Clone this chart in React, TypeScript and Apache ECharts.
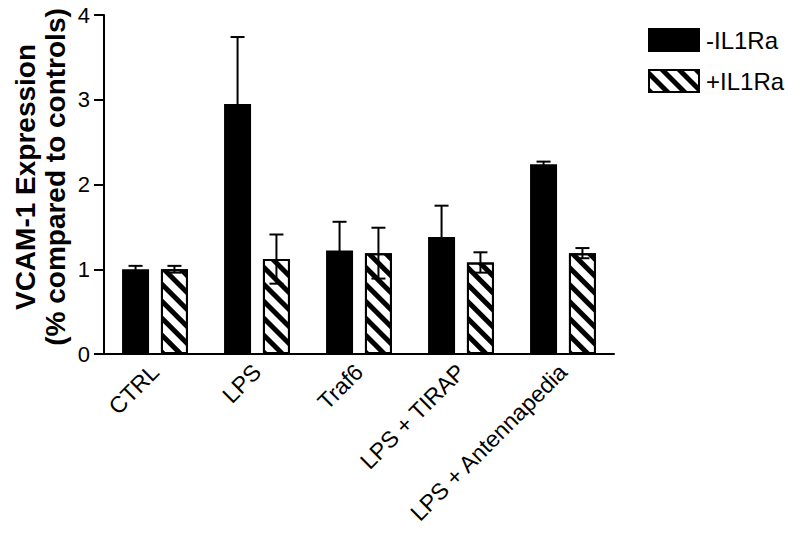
import React, { useEffect, useRef } from "react";
import * as echarts from "echarts";

const categories = ["CTRL", "LPS", "Traf6", "LPS + TIRAP", "LPS + Antennapedia"];
const minusValues = [1.0, 2.95, 1.22, 1.38, 2.24];
const minusErrors = [0.04, 0.79, 0.34, 0.37, 0.03];
const plusValues = [1.0, 1.12, 1.19, 1.08, 1.19];
const plusErrors = [0.04, 0.29, 0.3, 0.12, 0.06];
const yTicks = [0, 1, 2, 3, 4];

const FONT = "Liberation Sans, Arial, sans-serif";
const BAR_W = 27;
const GAP_PCT = 0.44;

function errorSeries(values: number[], errors: number[], side: number) {
  return {
    type: "custom",
    z: 10,
    silent: true,
    encode: { x: 0, y: 1 },
    data: values.map((v, i) => [i, v, errors[i]]),
    renderItem: (params: any, api: any) => {
      const idx = api.value(0);
      const v = api.value(1);
      const e = api.value(2);
      const top = api.coord([idx, v + e]);
      const bot = api.coord([idx, v - e]);
      const off = (side * (BAR_W + BAR_W * GAP_PCT)) / 2;
      const x = top[0] + off;
      const cap = 7;
      const style = { stroke: "#000", lineWidth: 2 };
      return {
        type: "group",
        children: [
          { type: "line", shape: { x1: x, y1: top[1], x2: x, y2: bot[1] }, style },
          { type: "line", shape: { x1: x - cap, y1: top[1], x2: x + cap, y2: top[1] }, style },
          { type: "line", shape: { x1: x - cap, y1: bot[1], x2: x + cap, y2: bot[1] }, style },
        ],
      };
    },
  };
}

export default function App() {
  const ref = useRef<HTMLDivElement>(null);
  useEffect(() => {
    document.body.style.margin = "0";
    if (!ref.current) return;
    const chart = echarts.init(ref.current, undefined, { renderer: "svg" });
    const hatch = {
      symbol: "rect",
      symbolSize: 1,
      dashArrayX: [1, 0],
      dashArrayY: [5, 7],
      rotation: Math.PI / 4,
      color: "#000",
      backgroundColor: "#fff",
    };
    chart.setOption({
      animation: false,
      backgroundColor: "#fff",
      textStyle: { fontFamily: FONT },
      grid: { left: 104, right: 186, top: 15, bottom: 179, containLabel: false },
      legend: {
        orient: "vertical",
        left: 648,
        top: 28,
        icon: "rect",
        itemWidth: 50,
        itemHeight: 22,
        itemGap: 17,
        padding: 0,
        data: ["-IL1Ra", "+IL1Ra"],
        textStyle: { fontSize: 24, color: "#000", fontFamily: FONT, padding: [0, 0, 0, 2] },
        selectedMode: false,
      },
      xAxis: {
        type: "category",
        data: categories,
        axisLine: { show: true, lineStyle: { color: "#000", width: 2 } },
        axisTick: { show: false },
        axisLabel: { rotate: 45, fontSize: 23, color: "#000", margin: 14, fontFamily: FONT, interval: 0 },
      },
      yAxis: {
        type: "value",
        min: 0,
        max: 4,
        interval: 1,
        splitLine: { show: false },
        axisLine: { show: true, lineStyle: { color: "#000", width: 2 } },
        axisTick: { show: true, length: 10, lineStyle: { color: "#000", width: 2 } },
        axisLabel: {
          fontSize: 22,
          color: "#000",
          margin: 14,
          fontFamily: FONT,
          formatter: (v: number) => (yTicks.includes(v) ? String(v) : ""),
        },
      },
      graphic: [
        {
          type: "text",
          x: 40,
          y: 177,
          rotation: Math.PI / 2,
          style: {
            text: "VCAM-1 Expression\n(% compared to controls)",
            fontSize: 28,
            fontWeight: "bold",
            fontFamily: FONT,
            fill: "#000",
            align: "center",
            verticalAlign: "middle",
            lineHeight: 30,
          },
        },
      ],
      series: [
        {
          name: "-IL1Ra",
          type: "bar",
          data: minusValues,
          barWidth: BAR_W,
          barGap: "44%",
          itemStyle: { color: "#000", borderColor: "#000", borderWidth: 2 },
        },
        {
          name: "+IL1Ra",
          type: "bar",
          data: plusValues,
          barWidth: BAR_W,
          barGap: "44%",
          itemStyle: { color: "#fff", borderColor: "#000", borderWidth: 2, decal: hatch },
        },
        errorSeries(minusValues, minusErrors, -1),
        errorSeries(plusValues, plusErrors, 1),
      ],
    });
    return () => chart.dispose();
  }, []);
  return <div ref={ref} style={{ width: 800, height: 533 }} />;
}
